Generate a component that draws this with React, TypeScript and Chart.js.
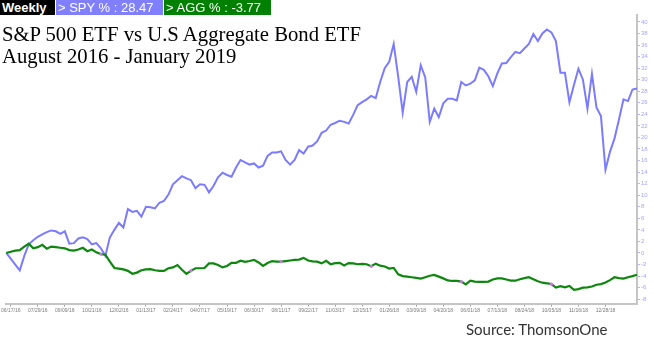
import React, { useEffect, useRef } from "react";
import { Chart, registerables } from "chart.js";
Chart.register(...registerables);

// Weekly observations, first week ending 06/10/16
const firstWeek = "2016-06-10";
const weekCount = 141;

const xTickLabels = [
  "06/17/16", "07/29/16", "09/09/16", "10/21/16", "12/02/16", "01/13/17",
  "02/24/17", "04/07/17", "05/19/17", "06/30/17", "08/11/17", "09/22/17",
  "11/03/17", "12/15/17", "01/26/18", "03/09/18", "04/20/18", "06/01/18",
  "07/13/18", "08/24/18", "10/05/18", "11/16/18", "12/28/18",
];

const yTickValues = [-8, -6, -4, -2, 0, 2, 4, 6, 8, 10, 12, 14, 16, 18, 20, 22, 24, 26, 28, 30, 32, 34, 36, 38, 40];

// SPY % change since start
const spyValues = [
  0, -1.0, -2.0, -3.0, -0.5, 1.5, 2.2, 2.8, 3.2, 3.6,
  3.9, 3.75, 3.3, 3.75, 1.6, 1.7, 2.5, 2.7, 2.4, 1.5,
  1.7, 0.8, -0.5, 2.7, 4.0, 5.2, 4.4, 7.6, 7.1, 7.3,
  6.3, 8.0, 7.9, 7.7, 8.7, 9.0, 10.1, 11.9, 12.6, 13.3,
  12.9, 12.6, 11.2, 11.9, 11.8, 10.5, 11.6, 13.1, 13.9, 13.5,
  13.2, 14.8, 16.1, 15.7, 15.3, 15.5, 14.8, 15.1, 16.8, 17.4,
  17.4, 17.6, 16.1, 15.3, 16.1, 17.8, 17.2, 18.4, 18.6, 19.3,
  20.8, 21.2, 22.2, 22.5, 22.9, 22.7, 22.4, 23.9, 25.6, 26.1,
  26.6, 27.2, 26.8, 29.6, 32.0, 33.1, 36.2, 30.5, 24.3, 29.6,
  30.5, 27.9, 32.5, 30.4, 22.7, 25.0, 23.5, 25.9, 26.7, 26.7,
  26.4, 29.6, 29.0, 29.3, 29.9, 32.1, 31.7, 30.6, 28.9, 31.1,
  32.8, 32.9, 33.9, 34.8, 34.6, 35.4, 36.2, 37.9, 36.7, 38.0,
  38.7, 38.2, 36.7, 31.2, 31.2, 26.1, 29.1, 31.9, 30.0, 25.0,
  31.0, 25.2, 23.7, 14.4, 17.5, 19.8, 23.1, 26.6, 26.3, 28.3,
  28.47,
];

// AGG % change since start
const aggValues = [
  0, 0.2, 0.4, 0.5, 1.1, 1.6, 0.8, 1.0, 1.4, 0.75,
  1.1, 1.0, 0.9, 0.8, 0.5, 0.4, 0.6, 0.9, 0.3, 0.6,
  0.1, -0.2, -0.3, -1.5, -2.6, -2.7, -2.85, -3.1, -3.6, -3.4,
  -3.0, -2.85, -2.8, -3.0, -3.1, -3.1, -2.65, -2.5, -2.1, -2.9,
  -3.6, -3.1, -2.65, -2.65, -2.6, -1.8, -1.8, -2.1, -2.5, -2.25,
  -1.7, -1.7, -1.35, -1.55, -1.4, -1.2, -1.65, -2.25, -1.75, -1.4,
  -1.5, -1.5, -1.4, -1.3, -1.2, -1.15, -0.85, -1.3, -1.45, -1.5,
  -1.8, -1.35, -1.95, -1.75, -1.7, -2.15, -1.75, -1.8, -1.95, -1.9,
  -1.95, -2.3, -1.85, -2.2, -2.35, -2.7, -2.6, -3.7, -4.0, -4.1,
  -4.2, -4.3, -4.45, -4.2, -3.95, -3.8, -4.1, -4.4, -4.75, -4.85,
  -4.85, -4.95, -5.45, -4.8, -4.95, -5.0, -5.0, -4.95, -4.6, -4.4,
  -4.4, -4.6, -4.8, -4.8, -4.55, -4.35, -4.2, -4.55, -4.9, -5.15,
  -5.25, -5.4, -6.0, -5.75, -5.95, -5.7, -6.4, -6.25, -6.0, -5.95,
  -5.8, -5.5, -5.4, -5.1, -4.7, -4.2, -4.35, -4.45, -4.2, -4.0,
  -3.77,
];

// weeks marked with a small dot on the AGG line
const aggMarkerIdx = [21, 41, 61, 81, 101, 121];

function pad(n: number) {
  return n < 10 ? "0" + n : "" + n;
}
function weeklyDates(start: string, count: number): string[] {
  const [y, m, d] = start.split("-").map(Number);
  const out: string[] = [];
  for (let i = 0; i < count; i++) {
    const dt = new Date(Date.UTC(y, m - 1, d + 7 * i));
    out.push(pad(dt.getUTCMonth() + 1) + "/" + pad(dt.getUTCDate()) + "/" + pad(dt.getUTCFullYear() % 100));
  }
  return out;
}
const categories = weeklyDates(firstWeek, weekCount);
const tickSet = new Set(xTickLabels);

export default function App() {
  const ref = useRef<HTMLCanvasElement>(null);
  useEffect(() => {
    const chart = new Chart(ref.current!, {
      type: "line",
      data: {
        labels: categories,
        datasets: [
          {
            label: "SPY",
            data: spyValues,
            borderColor: "rgba(112,112,255,0.92)",
            borderWidth: 2,
            pointRadius: 0,
            tension: 0,
            order: 1,
          },
          {
            label: "AGG",
            data: aggValues,
            borderColor: "#0e870e",
            borderWidth: 2.2,
            pointRadius: (c: any) => (aggMarkerIdx.includes(c.dataIndex) ? 1.6 : 0),
            pointBackgroundColor: "#cc77dd",
            pointBorderWidth: 0,
            tension: 0,
            order: 0,
          },
        ],
      },
      options: {
        responsive: false,
        animation: false,
        devicePixelRatio: 1,
        layout: { padding: { left: 2.7, top: 15, right: 0, bottom: 0 } },
        plugins: { legend: { display: false }, tooltip: { enabled: false } },
        scales: {
          x: {
            type: "category",
            offset: false,
            afterBuildTicks: (s: any) => {
              s.ticks = s.ticks.filter((t: any) => tickSet.has(categories[t.value]));
            },
            afterFit: (s: any) => {
              s.height = 57.5;
            },
            ticks: {
              autoSkip: false,
              maxRotation: 0,
              minRotation: 0,
              padding: 1,
              color: "#7a7a7a",
              font: { size: 5, family: "Liberation Sans" },
              callback: (v: any) => categories[v],
            },
            grid: { drawOnChartArea: false, tickLength: 3, color: "#9a9a9a" },
            border: { display: true, color: "#c4c4c4", width: 2 },
          },
          y: {
            position: "right",
            min: -8.75,
            max: 41.2,
            afterBuildTicks: (s: any) => {
              s.ticks = yTickValues.map((v) => ({ value: v }));
            },
            afterFit: (s: any) => {
              s.width = 17;
            },
            ticks: {
              padding: 1,
              color: "#a4a4ff",
              font: { size: 6, family: "Liberation Sans" },
            },
            grid: { drawOnChartArea: false, tickLength: 3, color: "#b4b4ff" },
            border: { display: true, color: "#c4c4c4", width: 2 },
          },
        },
      },
    } as any);
    return () => chart.destroy();
  }, []);

  const box = (bg: string, left: number, width: number, text: string, bold = false) => (
    <div
      style={{
        position: "absolute",
        left,
        top: 0,
        width,
        height: 15,
        background: bg,
        color: "#fff",
        font: `${bold ? "bold " : ""}13px "Liberation Sans", Arial, sans-serif`,
        lineHeight: "15px",
        paddingLeft: 2,
        boxSizing: "border-box",
        whiteSpace: "nowrap",
      }}
    >
      {text}
    </div>
  );

  return (
    <div style={{ position: "fixed", left: 0, top: 0, width: 654, height: 361, background: "#fff", overflow: "hidden" }}>
      <canvas ref={ref} width={654} height={361} style={{ position: "absolute", left: 0, top: 0, width: 654, height: 361 }} />
      {box("#000", 0, 55, "Weekly", true)}
      {box("#8080ff", 56, 107, "> SPY % : 28.47")}
      {box("#008000", 164, 107, "> AGG % : -3.77")}
      <div
        style={{
          position: "absolute",
          left: 2,
          top: 23,
          font: '20.7px "Liberation Serif", "Times New Roman", serif',
          lineHeight: "22px",
          color: "#000",
          whiteSpace: "nowrap",
        }}
      >
        <div>S&amp;P 500 ETF vs U.S Aggregate Bond ETF</div>
        <div>August 2016 - January 2019</div>
      </div>
      <div
        style={{
          position: "absolute",
          left: 466,
          top: 319,
          font: '15px Lato, "Open Sans", sans-serif',
          lineHeight: "20px",
          color: "#333",
          whiteSpace: "nowrap",
        }}
      >
        Source: ThomsonOne
      </div>
    </div>
  );
}
